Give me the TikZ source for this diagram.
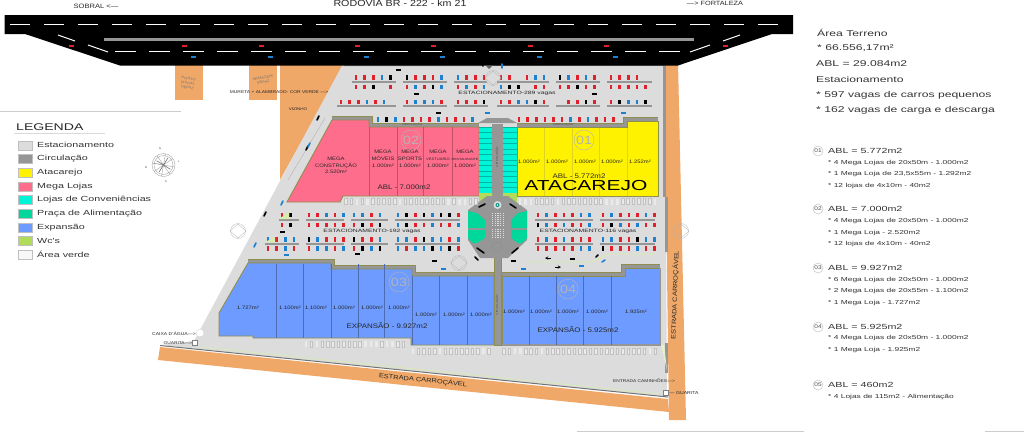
\documentclass[tikz,border=0pt]{standalone}
\usepackage{fontspec}
\setmainfont[FakeStretch=1.2]{Liberation Sans}
\newfontfamily\widefont[FakeStretch=1.45]{Liberation Sans}
\definecolor{roadorange}{HTML}{F0A868}
\definecolor{parklot}{HTML}{DCDCDC}
\definecolor{circul}{HTML}{969696}
\definecolor{megapink}{HTML}{FF6D8C}
\definecolor{shopteal}{HTML}{00F5D8}
\definecolor{foodgreen}{HTML}{00D79A}
\definecolor{expblue}{HTML}{6E9BFF}
\definecolor{wcgreen}{HTML}{B0DC5A}
\definecolor{storeol}{HTML}{8E8E4E}
\definecolor{carred}{HTML}{E0202C}
\definecolor{carblue}{HTML}{2080D0}
\definecolor{faint}{HTML}{B4B4B4}
\definecolor{bayline}{HTML}{C2C2C2}
\pgfmathdeclarerandomlist{carcol}{{carred}{carred}{carred}{carred}{carblue}{carblue}{carblue}{black}{none}}
\pgfmathdeclarerandomlist{baycol}{{bayline}{bayline}{bayline}{none}}
\pgfmathsetseed{11}
% y, first x, last x
\newcommand{\carrow}[3]{%
  \pgfmathsetmacro{\xa}{#2}
  \pgfmathsetmacro{\nx}{#2+8.6}
  \foreach \cx in {\xa,\nx,...,#3}{
    \pgfmathrandomitem{\cc}{carcol}
    \fill[fill=\cc] (\cx-1.3,#1-2.4) rectangle (\cx+1.3,#1+2.4);
  }}
\newcommand{\bays}[3]{%
  \pgfmathsetmacro{\xa}{#2}
  \pgfmathsetmacro{\nx}{#2+5.4}
  \foreach \cx in {\xa,\nx,...,#3}{
    \pgfmathrandomitem{\bc}{baycol}
    \draw[draw=\bc,line width=.5,fill=parklot!60!white] (\cx-1.3,#1-3) rectangle (\cx+1.3,#1+3);
  }}
\newcommand{\ghostmark}[2]{%
  \draw[faint,line width=.3] (#1,#2) circle (7.5);
  \draw[faint,line width=.3] (#1-8,#2) -- (#1,#2-7) -- (#1+8,#2) -- (#1,#2+7) -- cycle;}
\begin{document}
\begin{tikzpicture}[x=1pt,y=-1pt,
    tag/.style={font=\fontsize{4.9}{6.8}\selectfont,inner sep=0,align=center,text=black!85},
    note/.style={font=\fontsize{#1}{5}\selectfont,inner sep=0,align=center,text=black!85},
    tiny/.style={font=\fontsize{2.6}{3}\selectfont,inner sep=0,text=black!70},
    big/.style={font=\fontsize{6.6}{8}\selectfont,inner sep=0,text=black!85},
    park/.style={font=\widefont\fontsize{4.7}{6}\selectfont,inner sep=0,text=black!85},
    numc/.style={circle,draw=faint,line width=.4,minimum size=20,inner sep=0,text=faint,font=\fontsize{12}{12}\selectfont},
    numsmall/.style={circle,draw=black!20,line width=.6,minimum size=10,inner sep=0,text=black!70,font=\fontsize{5.4}{6}\selectfont},
    swatch/.style={minimum width=14,minimum height=9,inner sep=0,draw=black!25},
    legtext/.style={font=\widefont\fontsize{7.4}{9}\selectfont,inner sep=0,anchor=west,text=black!80},
    head/.style={font=\widefont\fontsize{8.4}{10}\selectfont,inner sep=0,anchor=west,text=black!80},
    abl/.style={font=\widefont\fontsize{7.4}{10}\selectfont,inner sep=0,anchor=west,text=black!80},
    item/.style={font=\widefont\fontsize{5.8}{7}\selectfont,inner sep=0,anchor=west,text=black!80},
    band/.style={preaction={draw=storeol,line width=7.6},draw=circul,line width=6.2},
    store/.style={fill=#1,draw=storeol,line width=.9},
    bar/.style={fill=circul},
    carbar/.style={line width=1.6,line cap=round},
    ]
  \useasboundingbox (0,0) rectangle (1024,432);

  % ground around the site
  \fill[roadorange] (175,65) rectangle (203,100);
  \fill[roadorange] (249,65) rectangle (277,100);
  \fill[roadorange] (280,65) -- (344,65) -- (280,180) -- cycle;
  \fill[roadorange] (160,347) -- (668,399) -- (669,412) -- (158,360) -- cycle;
  \fill[roadorange] (666,62) -- (678,62) -- (686,420) -- (669,420) -- (666,200) -- cycle;
  \fill[parklot] (344,62) -- (665,62) -- (667,397) -- (160,345) -- (194,341) -- cycle;
  \draw[black!55,line width=1] (160,345.5) -- (668,397);
  \draw[wcgreen!50,line width=.6] (200,347) -- (660,394);
  \fill[circul] (344,62) -- (477,62) -- (481,66) -- (344,66) -- cycle;
  \fill[circul] (493,62) -- (665,62) -- (665,66) -- (493,66) -- cycle;
  \fill[circul] (663,62) rectangle (665.5,197);
  \fill[circul] (665,197) rectangle (668,252);
  \fill[circul] (665,343) rectangle (668,373);
  \fill[wcgreen!35] (661,345) -- (664,345) -- (667,370) -- cycle;
  \draw[faint,line width=.4] (325,118) -- (288,180);

  % road
  \fill[black] (4.5,15) -- (793,15) -- (793,34) -- (772,34) -- (678,65.5) -- (120,65.5) -- (25,34) -- (4.5,34) -- cycle;
  \foreach \x in {0,...,22}
    \draw[white,line width=1] (10+34*\x,24) -- (30+34*\x,24);
  \foreach \x in {0,...,16}
    \draw[white,line width=1] (115+34*\x,51.5) -- (136+34*\x,51.5);
  \draw[white,line width=1] (58,35) -- (75,41) (88,45) -- (108,52) (690,52) -- (710,45) (723,41) -- (740,35);
  \fill[circul] (104,37.5) rectangle (694,40.5);
  \foreach \x in {71,184,261,357,433,530,606,725}
    \fill[carred] (\x-2.5,44.6) rectangle (\x+2.5,46.8);
  \foreach \x in {193.5,270,366,442,539,615}
    \fill[carblue] (\x-2.5,56) rectangle (\x+2.5,58);

  % stores
  \draw[band] (332,120) -- (369,120) -- (369,127) -- (479,127);
  \draw[store=megapink] (332,120) -- (369,120) -- (369,127) -- (479,127) -- (479,196) -- (343,196) -- (340,202) -- (287,202) -- cycle;
  \draw[band] (517,127) -- (627,127) -- (627,121) -- (658,121);
  \draw[store=yellow] (517,127) -- (627,127) -- (627,121) -- (658,121) -- (658,196) -- (517,196) -- cycle;
  \draw[band] (248,263) -- (331,263) -- (331,269) -- (412,269) -- (412,276) -- (494,276);
  \draw[store=expblue] (248,263) -- (331,263) -- (331,269) -- (412,269) -- (412,276) -- (494,276) -- (494,345) -- (411,345) -- (411,338) -- (253,338) -- (253,336) -- (219,336) -- (219,313) -- cycle;
  \draw[band] (502,276) -- (625,276) -- (625,268) -- (660,268);
  \draw[store=expblue] (502,276) -- (625,276) -- (625,268) -- (660,268) -- (660,345) -- (502,345) -- cycle;
  \draw[circul,line width=1.6] (660,268) -- (660,345) -- (502,345);
  \foreach \x in {369,397,423,452}
    \draw[megapink!75!black,line width=.25] (\x,127) -- (\x,196);
  \foreach \x in {544,572,599,627}
    \draw[yellow!85!black,line width=.25] (\x,128) -- (\x,196);
  \foreach \x in {276,303,331,358,384} 
    \draw[expblue!70!black,line width=.25] (\x,264) -- (\x,338);
  \foreach \x in {412,439,467} 
    \draw[expblue!70!black,line width=.25] (\x,276) -- (\x,345);
  \foreach \x in {529,556,583,611} 
    \draw[expblue!70!black,line width=.25] (\x,276) -- (\x,345);

  % shops and central road
  \fill[circul] (492,124) rectangle (503,200);
  \fill[shopteal] (479,127) rectangle (492,193);
  \fill[shopteal] (503,127) rectangle (517,193);
  \foreach \y in {0,...,11}{
    \draw[shopteal!75!black,line width=.2] (479,127+5.5*\y) -- (492,127+5.5*\y) (503,127+5.5*\y) -- (517,127+5.5*\y);
  }
  \fill[wcgreen] (479,193) -- (492,193) -- (492,197) -- (479,204) -- cycle;
  \fill[wcgreen] (503,193) -- (517,193) -- (517,204) -- (503,197) -- cycle;
  \fill[circul] (478,123) -- (487,118) -- (508,118) -- (517,123) -- cycle;
  \draw[fill=circul,draw=storeol,line width=.5] (494,256) rectangle (501,345);

  % food court
  \fill[circul] (468,210) -- (487,196) -- (508,196) -- (527,210) -- (527,240) -- (508,258) -- (480,258) -- (468,240) -- cycle;
  \fill[foodgreen] (468,211) -- (477,213) -- (485,220) -- (485,228) -- (468,228) -- cycle;
  \fill[foodgreen] (468,230) -- (485,230) -- (485,238) -- (477,243) -- (473,243) -- (468,238) -- cycle;
  \fill[foodgreen] (527,211) -- (518,213) -- (511,220) -- (511,228) -- (527,228) -- cycle;
  \fill[foodgreen] (527,230) -- (511,230) -- (511,238) -- (518,243) -- (522,243) -- (527,238) -- cycle;
  \foreach \x in {0,...,4}{
    \foreach \y in {0,...,6}
      \fill[parklot] (492+2.7*\x,213+2*\y) rectangle +(1.3,1.2);
    \foreach \y in {0,...,4}
      \fill[parklot] (492+2.7*\x,229+2*\y) rectangle +(1.3,1.2);
  }
  \fill[parklot] (497.5,205) circle (4);
  \fill[shopteal!60!black] (497.5,205) circle (2);
  \fill[white] (497.5,205) circle (.8);
  \draw[black!45,line width=.3] (497,247) circle (5);
  \draw[black,carbar] (479,207) -- (485,204) (510,204) -- (516,208) (477,248) -- (484,253) (518,248) -- (512,253) (475,257) -- (478,260);

  % parking rows
  \foreach \a/\b in {352/396,403/447,454/487,497/549,556/600,607/652}
    \fill[bar] (\a,80.7) rectangle (\b,82.7);
  \foreach \a/\b in {337/396,403/447,454/488,497/549,556/600,607/652}
    \fill[bar] (\a,105) rectangle (\b,107);
  \foreach \a/\b in {352/396,403/447,454/487,497/549,556/600,607/652}{
    \carrow{77.5}{\a+4}{\b}
    \carrow{87}{\a+4}{\b}
  }
  \foreach \a/\b in {337/396,403/447,454/488,497/549,556/600,607/652}
    \carrow{102}{\a+4}{\b}
  \carrow{119.5}{378}{475}
  \carrow{119.5}{519}{618}
  \foreach \a/\b in {279/299,306/344,351/388,395/460,535/593,600/655}{
    \fill[bar] (\a,219) rectangle (\b,221);
    \carrow{215}{\a+3}{\b}
    \carrow{225}{\a+3}{\b}
  }
  \foreach \a/\b in {265/299,306/344,351/388,395/460,535/593,600/655}{
    \fill[bar] (\a,242.5) rectangle (\b,244.5);
    \carrow{239.5}{\a+3}{\b}
    \carrow{248.5}{\a+3}{\b}
  }
  \fill[wcgreen!50] (279,219) -- (289,212) -- (289,219) -- cycle;
  \fill[wcgreen!50] (265,242) -- (275,237) -- (275,242) -- cycle;
  \bays{201.5}{346}{476}
  \bays{201.5}{520}{657}
  \bays{344}{306}{408}
  \bays{351}{413}{492}
  \bays{351}{504}{657}

  % loose cars and lane marks
  \foreach \x/\y in {398/70,416/94,438/113,594/94,282/232,357/254,434/261,513/261,572/259}
    \fill[black] (\x-2.5,\y-1) rectangle (\x+2.5,\y+1);
  \foreach \x/\y in {487/113,623/113,286/255,443/269,523/269,581/266}
    \fill[carblue] (\x-2.5,\y-1) rectangle (\x+2.5,\y+1);
  \draw[black,carbar] (317,120) -- (319,116) (306,150) -- (308,146) (264,216) -- (266,212) (480,62) -- (483,66) (596,257) -- (598,255);
  \draw[carblue,carbar] (308,147) -- (310,143) (281,205) -- (283,201) (254,247) -- (256,243) (502,64) -- (502,68) (602,262) -- (605,260);
  \fill[black!60] (486,66) -- (492,66) -- (489,69) -- cycle;
  \draw[black,line width=.5,-stealth] (551,258) -- (545,258);
  \draw[black,line width=.5,-stealth] (555,267) -- (561,267);
  \draw[wcgreen!50,line width=.8] (527,262) -- (590,262) -- (610,254) -- (655,254);
  \ghostmark{493}{78}
  \ghostmark{238}{231}
  \ghostmark{459}{263}
  \ghostmark{681}{231}

  % site furniture
  \draw[black!20,fill=white,line width=.3] (200,333) circle (4);
  \node[draw=black!50,fill=white,line width=.3,minimum size=5,inner sep=0] (guarita_a) at (195,343) {};
  \node[draw=black!50,fill=white,line width=.3,minimum size=5,inner sep=0] (guarita_b) at (666,393) {};

  % texts on the plan
  \node[note=8.9] (rodovia) at (400,3) {RODOVIA BR - 222 - km 21};
  \node[note=6.3] (sobral) at (96,6) {SOBRAL <---};
  \node[note=6.1] (fortaleza) at (715,3) {---> FORTALEZA};
  \node[tiny,align=center,rotate=-8,text=black!55,font=\fontsize{3.4}{4.4}\selectfont] (posto) at (188,83) {POSTO\\FISCAL\\SEFAZ};
  \node[tiny,align=center,rotate=10,text=black!55,font=\fontsize{3.4}{4.4}\selectfont] (armazem) at (263,80) {ARMAZEM\\SEFAZ};
  \node[note=4.1] (mureta) at (279,92) {MURETA + ALAMBRADO- COR VERDE --->};
  \node[note=3.8] (vizinho) at (298,109) {VIZINHO};
  \node[note=4.2] (caixa) at (174,334) {CAIXA D'ÁGUA--->};
  \node[note=4] (guaritalbl) at (178,343) {GUARITA--->};
  \node[note=4.05] (caminhoes) at (644,381) {ENTRADA CAMINHÕES--->};
  \node[note=4.3] (guaritalbr) at (684,393) {--- GUARITA};
  \node[park] (park_a) at (507,93) {ESTACIONAMENTO-289 vagas};
  \node[park] (park_b) at (372,231) {ESTACIONAMENTO-192 vagas};
  \node[park] (park_c) at (588,231) {ESTACIONAMENTO-116 vagas};
  \node[note=6.2,rotate=-5.8] (estrada_a) at (423,380) {ESTRADA CARROÇÁVEL};
  \node[note=6.2,rotate=88] (estrada_b) at (675,295) {ESTRADA CARROÇÁVEL};
  \node[tiny] (cir_a) at (412,125) {CIRCULAÇÃO};
  \node[tiny] (cir_b) at (563,125) {CIRCULAÇÃO};
  \node[tiny,rotate=90] (cir_c) at (497,157) {CIRCULAÇÃO};
  \node[tiny,rotate=90] (cir_d) at (497,305) {CIRCULAÇÃO};

  \node[numc] (n01) at (584,140) {01};
  \node[numc] (n02) at (411,140) {02};
  \node[numc] (n03) at (399,282) {03};
  \node[numc] (n04) at (568,289) {04};

  \node[tag] (mconst) at (336,165.5) {MEGA\\CONSTRUÇÃO\\2.520m²};
  \node[tag] (mmov) at (383,159) {MEGA\\MÓVEIS\\1.000m²};
  \node[tag] (mspo) at (410,159) {MEGA\\SPORTS\\1.000m²};
  \node[tag] (mves) at (438,159) {MEGA\\{\fontsize{3.4}{4}\selectfont VESTUÁRIO}\\1.000m²};
  \node[tag] (mres) at (465,159) {MEGA\\{\fontsize{3}{4}\selectfont RESTAURANTE}\\1.000m²};
  \node[big] (ablpink) at (404,187) {ABL - 7.000m2};
  \foreach \x/\m in {529/1.000,557/1.000,585/1.000,612/1.000,640/1.252}
    \node[tag] (y\x) at (\x,162) {\m m²};
  \node[big] (ablyel) at (579,176) {ABL - 5.772m2};
  \node[inner sep=0,font=\widefont\fontsize{14.5}{16}\selectfont,text=black] (atacarejo) at (586,186) {ATACAREJO};

  \foreach \x/\m in {248/1.727,290/1.100,316/1.100,344/1.000,372/1.000,399/1.000}
    \node[tag] (ba\x) at (\x,308) {\m m²};
  \foreach \x in {426,454,481}
    \node[tag] (bb\x) at (\x,315) {1.000m²};
  \foreach \x/\m in {514/1.000,541/1.000,568/1.000,597/1.000,636/1.925}
    \node[tag] (bc\x) at (\x,311.5) {\m m²};
  \node[big] (expa) at (387,326) {EXPANSÃO - 9.927m2};
  \node[big] (expb) at (578,330) {EXPANSÃO - 5.925m2};

  % legend
  \draw[black!20,line width=.6] (0,111) -- (181,111);
  \node[inner sep=0,anchor=west,font=\widefont\fontsize{9.7}{12}\selectfont,text=black!85] (legenda) at (16,127) {LEGENDA};
  \draw[black!15,line width=.6] (14,133) -- (105,133);
  \foreach \i/\c/\t in {0/parklot/Estacionamento,1/circul/Circulação,2/yellow/Atacarejo,3/megapink/Mega Lojas,4/shopteal/Lojas de Conveniências,5/foodgreen/Praça de Alimentação,6/expblue/Expansão,7/wcgreen/Wc's,8/black!3/Área verde}{
    \node[swatch,fill=\c] (sw\i) at (25,145.3+13.67*\i) {};
    \node[legtext] (lg\i) at (37,145.3+13.67*\i) {\t};
  }
  \draw[black!35,line width=.4] (163.5,165) circle (11.5) circle (9.5);
  \foreach \a in {10,55,...,370}
    \draw[black!40,line width=.35] (163.5,165) -- ++(\a:-11);
  \foreach \a in {32,122,212,302}
    \draw[black!55,line width=.6] (163.5,165) -- ++(\a:-8);
  \node[tiny] (cn) at (160,149) {N};
  \node[tiny] (cl) at (179,162) {L};
  \node[tiny] (cs) at (166,182) {S};
  \node[tiny] (co) at (146,168) {O};

  % totals
  \node[head] (t1) at (817,33) {Área Terreno};
  \node[head] (t2) at (817,48) {* 66.556,17m²};
  \node[head] (t3) at (816,64) {ABL = 29.084m2};
  \node[head] (t4) at (816,79) {Estacionamento};
  \node[head] (t5) at (816,95) {* 597 vagas de carros pequenos};
  \node[head] (t6) at (816,110) {* 162 vagas de carga e descarga};

  \node[numsmall] (s01) at (818,151) {01};
  \node[abl] (a01) at (828,151) {ABL = 5.772m2};
  \node[item] (i011) at (828,163) {* 4 Mega Lojas de 20x50m - 1.000m2};
  \node[item] (i012) at (828,174) {* 1 Mega Loja de 23,5x55m - 1.292m2};
  \node[item] (i013) at (828,186) {* 12 lojas de 4x10m - 40m2};
  \node[numsmall] (s02) at (818,209) {02};
  \node[abl] (a02) at (828,209) {ABL = 7.000m2};
  \node[item] (i021) at (828,221) {* 4 Mega Lojas de 20x50m - 1.000m2};
  \node[item] (i022) at (828,233) {* 1 Mega Loja - 2.520m2};
  \node[item] (i023) at (828,244) {* 12 lojas de 4x10m - 40m2};
  \node[numsmall] (s03) at (818,268) {03};
  \node[abl] (a03) at (828,268) {ABL = 9.927m2};
  \node[item] (i031) at (828,280) {* 6 Mega Lojas de 20x50m - 1.000m2};
  \node[item] (i032) at (828,291) {* 2 Mega Lojas de 20x55m - 1.100m2};
  \node[item] (i033) at (828,303) {* 1 Mega Loja - 1.727m2};
  \node[numsmall] (s04) at (818,327) {04};
  \node[abl] (a04) at (828,327) {ABL = 5.925m2};
  \node[item] (i041) at (828,338) {* 4 Mega Lojas de 20x50m - 1.000m2};
  \node[item] (i042) at (828,350) {* 1 Mega Loja - 1.925m2};
  \node[numsmall] (s05) at (818,385) {05};
  \node[abl] (a05) at (828,385) {ABL = 460m2};
  \node[item] (i051) at (828,397) {* 4 Lojas de 115m2 - Alimentação};
  \draw[black!20,line width=.6] (577,431) -- (804,431) (985,431) -- (1024,431);
\end{tikzpicture}
\end{document}
